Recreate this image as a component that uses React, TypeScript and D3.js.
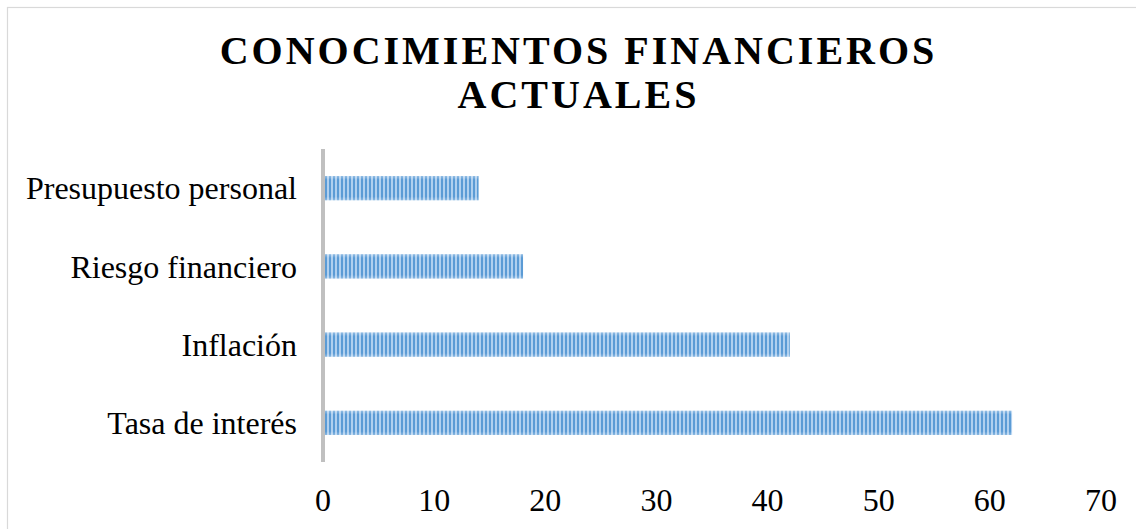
import React from "react";
import * as d3 from "d3";

const categories = ["Presupuesto personal", "Riesgo financiero", "Inflación", "Tasa de interés"];
const values = [14, 18, 42, 62];
const xTicks = [0, 10, 20, 30, 40, 50, 60, 70];
const titleLines = ["CONOCIMIENTOS FINANCIEROS", "ACTUALES"];

const W = 1136;
const H = 529;

export default function App() {
  const x = d3.scaleLinear().domain([0, 70]).range([323, 1101]);
  const y = d3
    .scaleBand<string>()
    .domain(categories)
    .range([149, 462])
    .paddingInner(0.69)
    .paddingOuter(0.345);

  const font = "'Liberation Serif', 'Times New Roman', serif";
  const ls = 3.0;

  return (
    <svg
      width={W}
      height={H}
      style={{ position: "absolute", left: 0, top: 0, background: "#fff" }}
      fontFamily={font}
    >
      <defs>
        <pattern id="stripes" patternUnits="userSpaceOnUse" width={4} height={10} x={1}>
          <rect x={0} y={0} width={4} height={10} fill="#b0d0ef" />
          <rect x={0} y={0} width={2} height={10} fill="#5b9bd5" />
        </pattern>
        <linearGradient id="shade" x1="0" y1="0" x2="0" y2="1">
          <stop offset="0" stopColor="#ffffff" stopOpacity={0.35} />
          <stop offset="0.15" stopColor="#ffffff" stopOpacity={0} />
          <stop offset="0.85" stopColor="#ffffff" stopOpacity={0} />
          <stop offset="1" stopColor="#ffffff" stopOpacity={0.3} />
        </linearGradient>
      </defs>
      <rect x={0} y={0} width={W} height={H} fill="#fff" />
      <rect x={7.5} y={7.5} width={W + 10} height={H + 10} fill="none" stroke="#d9d9d9" strokeWidth={1.2} />

      {titleLines.map((t, i) => (
        <text
          key={t}
          x={577 + ls / 2}
          y={64 + i * 44}
          textAnchor="middle"
          fontSize={40}
          fontWeight="bold"
          letterSpacing={ls}
          fill="#000"
        >
          {t}
        </text>
      ))}

      {categories.map((c, i) => {
        const by = y(c)!;
        const bw = y.bandwidth();
        return (
          <g key={c}>
            <rect x={x(0)} y={by} width={x(values[i]) - x(0)} height={bw} fill="url(#stripes)" />
            <rect x={x(0)} y={by} width={x(values[i]) - x(0)} height={bw} fill="url(#shade)" />
            <text
              x={297}
              y={by + bw / 2}
              dy="0.35em"
              textAnchor="end"
              fontSize={32}
              fill="#000"
            >
              {c}
            </text>
          </g>
        );
      })}

      <rect x={321} y={149} width={4} height={313} fill="#c0c0c0" />

      {xTicks.map((t) => (
        <text key={t} x={x(t)} y={511} textAnchor="middle" fontSize={32} fill="#000">
          {t}
        </text>
      ))}
    </svg>
  );
}
